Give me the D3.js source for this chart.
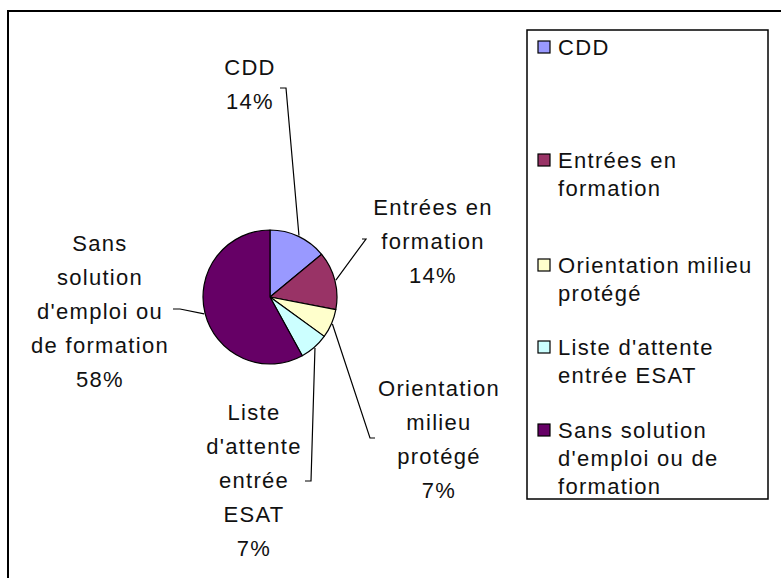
<!DOCTYPE html>
<html>
<head>
<meta charset="utf-8">
<script src="https://cdn.jsdelivr.net/npm/d3@7"></script>
<style>
  html, body { margin: 0; padding: 0; background: #fff; }
  svg { display: block; }
  text { font-family: "Liberation Sans", Arial, sans-serif; fill: #111; }
</style>
</head>
<body>
<svg id="chart" width="781" height="578"></svg>
<script>
// ---- data ----
const categories = ["CDD", "Entrées en formation", "Orientation milieu protégé", "Liste d'attente entrée ESAT", "Sans solution d'emploi ou de formation"];
const values = [14, 14, 7, 7, 58];
const pieLabelLines = [
  ["CDD"],
  ["Entrées en", "formation"],
  ["Orientation", "milieu", "protégé"],
  ["Liste", "d'attente", "entrée", "ESAT"],
  ["Sans", "solution", "d'emploi ou", "de formation"]
];
const legendLines = [
  ["CDD"],
  ["Entrées en", "formation"],
  ["Orientation milieu", "protégé"],
  ["Liste d'attente", "entrée ESAT"],
  ["Sans solution", "d'emploi ou de", "formation"]
];
const colors = ["#9999FF", "#993366", "#FFFFCC", "#CCFFFF", "#660066"];

// ---- layout ----
const W = 781, H = 578;
const cx = 270, cy = 297, R = 67;
const fontSize = 22, letterSpacing = 1.3;
const labelLineH = 34, legendLineH = 28;
// label block centre (x, first line centre y) relative to pie centre
const labelPos = [
  [-20, -230], [163, -90], [169, 91], [-16, 115], [-170, -54]
];
// leader line end point and tick end, relative to pie centre
const leaderEnd = [
  [[16, -209], [10, -209]],
  [[96, -58], [92, -58]],
  [[100, 141], [105, 141]],
  [[41, 184], [35, 184]],
  [[-90, 12], [-97, 12]]
];
const legendFirstY = [47, 160, 265, 347, 430];

const svg = d3.select("#chart");

// outer chart frame
svg.append("rect")
  .attr("x", 8).attr("y", 11)
  .attr("width", W + 20).attr("height", H + 20)
  .attr("fill", "#fff").attr("stroke", "#000").attr("stroke-width", 2);

const color = d3.scaleOrdinal().domain(categories).range(colors);
const pie = d3.pie().sort(null).value(d => d.value);
const data = categories.map((c, i) => ({ name: c, value: values[i], idx: i }));
const arcs = pie(data);
const arc = d3.arc().innerRadius(0).outerRadius(R);

const g = svg.append("g").attr("transform", `translate(${cx},${cy})`);
g.selectAll("path.slice").data(arcs).join("path")
  .attr("class", "slice")
  .attr("d", arc)
  .attr("fill", d => color(d.data.name))
  .attr("stroke", "#000").attr("stroke-width", 1.2)
  .attr("stroke-linejoin", "round");

const total = d3.sum(values);
const pct = d3.format(".0%");

// leader lines
g.selectAll("polyline.leader").data(arcs).join("polyline")
  .attr("class", "leader")
  .attr("fill", "none").attr("stroke", "#000").attr("stroke-width", 1.2)
  .attr("points", d => {
    const a = (d.startAngle + d.endAngle) / 2;
    const s = [Math.sin(a) * (R + 1), -Math.cos(a) * (R + 1)];
    const e = leaderEnd[d.data.idx];
    return [s, e[0], e[1]].map(p => p.join(",")).join(" ");
  });

// pie labels
arcs.forEach(d => {
  const i = d.data.idx;
  const lines = pieLabelLines[i].concat([pct(d.value / total)]);
  const t = g.append("text")
    .attr("text-anchor", "middle")
    .attr("font-size", fontSize)
    .attr("letter-spacing", letterSpacing);
  lines.forEach((ln, k) => {
    t.append("tspan")
      .attr("x", labelPos[i][0])
      .attr("y", labelPos[i][1] + k * labelLineH)
      .attr("dy", "0.35em")
      .text(ln);
  });
});

// legend
const lg = svg.append("g");
lg.append("rect")
  .attr("x", 527).attr("y", 30).attr("width", 241).attr("height", 469)
  .attr("fill", "#fff").attr("stroke", "#000").attr("stroke-width", 1.5);

categories.forEach((c, i) => {
  const y0 = legendFirstY[i];
  lg.append("rect")
    .attr("x", 538).attr("y", y0 - 6).attr("width", 12).attr("height", 12)
    .attr("fill", color(c)).attr("stroke", "#000").attr("stroke-width", 1.2);
  const t = lg.append("text")
    .attr("font-size", fontSize)
    .attr("letter-spacing", letterSpacing);
  legendLines[i].forEach((ln, k) => {
    t.append("tspan")
      .attr("x", 558)
      .attr("y", y0 + k * legendLineH)
      .attr("dy", "0.35em")
      .text(ln);
  });
});
</script>
</body>
</html>
